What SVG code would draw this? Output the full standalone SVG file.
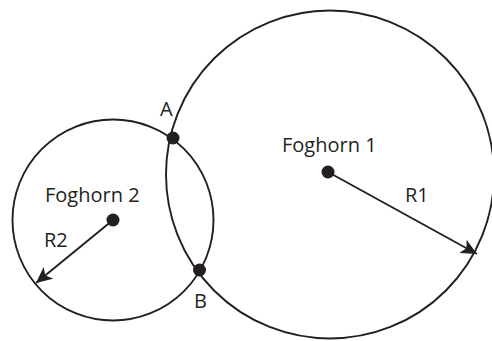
<svg xmlns="http://www.w3.org/2000/svg" width="492" height="341" viewBox="0 0 492 341">
<style>
.c{fill:none;stroke:#231f20;stroke-width:1.9}
.d{fill:#231f20}
.l{stroke:#231f20;stroke-width:1.9;fill:none}
text{font-family:"Open Sans","Noto Sans",sans-serif;font-size:20px;fill:#231f20}
</style>
<defs>
<marker id="ah" viewBox="-16 -8 17 16" refX="0" refY="0" markerWidth="17" markerHeight="16" markerUnits="userSpaceOnUse" orient="auto">
<path d="M0,0 L-16,-7.5 L-12,0 L-16,7.5 Z" fill="#231f20"/>
</marker>
</defs>
<rect width="492" height="341" fill="#fff"/>
<g id="foghorn1">
<circle class="c" cx="330" cy="174.5" r="164"/>
<circle class="d" cx="328" cy="172" r="6.5"/>
<text x="282" y="152">Foghorn 1</text>
</g>
<g id="foghorn2">
<circle class="c" cx="113" cy="220" r="100.5"/>
<circle class="d" cx="113" cy="220" r="6.5"/>
<text x="45" y="202">Foghorn 2</text>
</g>
<g id="pointA">
<circle class="d" cx="173" cy="138" r="6.5"/>
<text x="160" y="116">A</text>
</g>
<g id="pointB">
<circle class="d" cx="199.5" cy="270" r="6.5"/>
<text x="194" y="308">B</text>
</g>
<g id="connectors">
<line class="l" x1="328" y1="172" x2="477" y2="254" marker-end="url(#ah)"/>
<line class="l" x1="113" y1="220" x2="36" y2="283" marker-end="url(#ah)"/>
<text x="405" y="202">R1</text>
<text x="44" y="247">R2</text>
</g>
</svg>
